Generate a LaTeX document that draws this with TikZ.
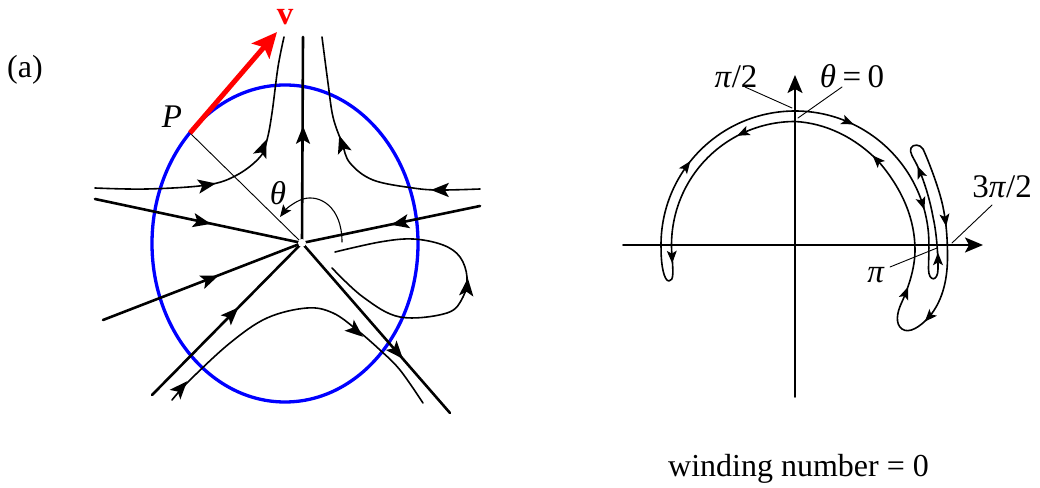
\documentclass[tikz,border=0pt]{standalone}
\usepackage{fontspec}
\setmainfont{Liberation Serif}
\usetikzlibrary{arrows.meta}
\definecolor{eblue}{RGB}{0,0,255}
\definecolor{vred}{RGB}{255,0,0}
% filled arrowhead: #1 scale, #2 position, #3 direction (degrees)
\newcommand\ahd[3]{\fill[shift={(#2)}, rotate=#3, scale=#1] (6,0) -- (-6,4.8) -- (-3.2,0) -- (-6,-4.8) -- cycle;}
\begin{document}
\begin{tikzpicture}[x=1pt,y=1pt,line cap=round,line join=round,
  font=\fontsize{32}{37}\selectfont,
  strong/.style={line width=2.6pt},
  traj/.style={line width=1.6pt},
  hair/.style={line width=0.9pt},
  ring/.style={draw=eblue,line width=3.3pt},
  axisline/.style={line width=1.9pt,-{Stealth[length=18pt,width=15pt,inset=4pt]}},
  lab/.style={inner sep=0pt,outer sep=0pt},
  mlab/.style={inner sep=0pt,outer sep=0pt,font=\fontsize{33}{38}\selectfont}]
\useasboundingbox (0,0) rectangle (1040,487);

% ---------------- left diagram ----------------
\coordinate (C) at (302,244);
\coordinate (P) at (190,354);
\coordinate (V) at (277,455);
\draw[ring] (285,243.5) ellipse[x radius=133, y radius=158.5];

% straight trajectories
\coordinate (l1) at (303,450);
\coordinate (l2) at (95,288);
\coordinate (l3) at (480,281);
\coordinate (l4) at (103,167);
\coordinate (l5) at (152,92);
\coordinate (l6) at (450,74);
\draw[strong] (l1) -- (C);
\draw[strong] (l2) -- (C);
\draw[strong] (l3) -- (C);
\draw[strong] (l4) -- (C);
\draw[strong] (l5) -- (C);
\draw[strong] (C) -- (l6);
\ahd{1.5}{303,352}{90}
\ahd{1.5}{202,265}{-12}
\ahd{1.5}{400,264}{191.7}
\ahd{1.5}{210,208}{21.2}
\ahd{1.5}{232,173}{45.4}
\ahd{1.5}{397,135}{-49}

% curved trajectories
\draw[traj] plot[smooth,tension=0.6] coordinates {(95,299) (147,298) (207,302) (237,312) (260,330) (267,347) (272,374) (278,420) (284,450)};
\ahd{1.5}{207,302}{10}
\ahd{1.5}{263,339}{68}
\draw[traj] plot[smooth,tension=0.6] coordinates {(480,298) (440,297) (413,299) (373,307) (350,324) (342,344) (333,370) (328,404) (322,450)};
\ahd{1.5}{440,297}{180}
\ahd{1.5}{342,343}{108}
\draw[traj] plot[smooth,tension=0.6] coordinates {(172,87) (190,107) (230,144) (267,169) (307,179) (333,174) (357,157) (380,137) (400,117) (423,84)};
\ahd{1.5}{181,99}{48}
\ahd{1.5}{356,156}{-40}
\draw[traj] plot[smooth,tension=0.6] coordinates {(332,219) (363,190) (400,170) (447,174) (463,190) (467,210) (460,230) (443,242) (413,248) (380,245) (335,235)};
\ahd{1.5}{467,200}{85}

% radius, angle, vector
\draw[hair] (P) -- (C);
\draw[hair,line width=1.1pt,-{Stealth[length=12pt,width=10pt,inset=2.5pt]}] (342,245) .. controls (342,280) and (320,293) .. (303,288) .. controls (294,285) and (286,278) .. (280,270);
\fill[white] (C) circle[radius=4];
\draw[vred,line width=5pt,line cap=butt,-{Stealth[length=25pt,width=23pt,inset=5pt]}] (P) -- (V);

\node[lab] (lbla) at (25,417.5) {(a)};
\node[mlab,text=vred] (lblv) at (285,470) {\textbf{v}};
\node[mlab] (lblP) at (172,370) {\textit{P}};
\node[mlab] (lblth) at (278,294) {\textit{θ}};

% ---------------- right diagram ----------------
\begin{scope}[shift={(795,242)}]
\coordinate (xa) at (-172,0);
\coordinate (xb) at (188,0);
\coordinate (ya) at (0,-152);
\coordinate (yb) at (0,170);
\draw[axisline] (xa) -- (xb);
\draw[axisline] (ya) -- (yb);

\draw[traj] (182:134) arc[start angle=182, end angle=5, radius=134]
  .. controls (134.5,-2) and (133.5,-15) .. (133.5,-24)
  .. controls (133.5,-37) and (143,-37) .. (143,-24)
  .. controls (143,-5) and (141,15) .. (138,28)
  .. controls (135,45) and (129,65) .. (122,80)
  .. controls (118,88) and (114,93) .. (116,97)
  .. controls (118,101) and (125,101) .. (128,96)
  .. controls (131,90) and (144,58) .. (148,38)
  .. controls (151,24) and (152.5,8) .. (152.5,-12)
  .. controls (152.5,-38) and (146,-58) .. (134,-72)
  .. controls (125,-82) and (114,-89) .. (107,-84)
  .. controls (100,-79) and (102,-68) .. (106,-59)
  .. controls (112,-46) and (120,-25) .. (120,-5)
  .. controls (120,25) and (108,55) .. (84,83)
  .. controls (60,108) and (30,122) .. (0,123.5)
  arc[start angle=90, end angle=186, radius=123.5]
  .. controls (-122,-26) and (-121,-36) .. (-126,-36)
  .. controls (-131,-36) and (-134,-20) .. (182:134) -- cycle;

\ahd{1.05}{-108.4,78.8}{54}
\ahd{1.05}{53.0,123.1}{-23.3}
\ahd{1.05}{-52.2,111.9}{205}
\ahd{1.05}{-123,-12}{272}
\ahd{1.05}{82,85}{134}
\ahd{1.05}{127.4,41.4}{-72}
\ahd{1.05}{125,73}{112}
\ahd{1.05}{143,-14}{90}
\ahd{1.05}{150.3,24.8}{-82}
\ahd{1.05}{134,-72}{228}
\ahd{1.05}{110.7,-47.9}{69}

\node[mlab] (lpi2) at (-59,168) {\textit{π}/2};
\node[mlab] (lth0) at (57,169) {\textit{θ}\hspace{0.2em}=\hspace{0.2em}0};
\node[mlab] (l3pi) at (207,58.5) {3\textit{π}/2};
\node[mlab] (lpi) at (81,-30) {\textit{π}};
\coordinate (a1) at (-50,158); \coordinate (a2) at (-3,137);
\coordinate (b1) at (47,158);  \coordinate (b2) at (3,127);
\coordinate (c1) at (197,40);  \coordinate (c2) at (157,2);
\coordinate (d1) at (95,-22);  \coordinate (d2) at (142,-3);
\draw[hair] (a1) -- (a2);
\draw[hair] (b1) -- (b2);
\draw[hair] (c1) -- (c2);
\draw[hair] (d1) -- (d2);
\end{scope}

\node[lab,anchor=base] (wind) at (798.5,10.3) {winding number = 0};
\end{tikzpicture}
\end{document}
